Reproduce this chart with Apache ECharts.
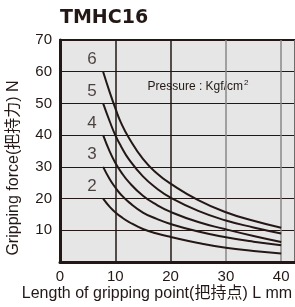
<!DOCTYPE html>
<html>
<head>
<meta charset="utf-8">
<script src="https://cdn.jsdelivr.net/npm/echarts@6/dist/echarts.min.js"></script>
<style>
    html, body { margin: 0; padding: 0; background: #fff; }
    #chart { width: 295px; height: 307px; }
</style>
</head>
<body>
<div id="chart"></div>
<script>
    // pressure levels (Kgf/cm2), one curve each
    var pressures = ['6', '5', '4', '3', '2'];
    // gripping point length L (mm)
    var lengths = [7.8, 9, 10, 11, 12.5, 15, 17.5, 20, 25, 30, 35, 40];
    // gripping force N
    var force6 = [60, 53.5, 48.5, 44, 39, 32.5, 28, 24.7, 19.5, 15.7, 13, 10.8];
    var force5 = [50, 44.3, 40, 36.6, 32.3, 27, 23.2, 20.3, 16.1, 13.1, 10.9, 9.0];
    var force4 = [40, 34.8, 31.3, 28.5, 25.1, 20.9, 18, 15.8, 12.6, 10.3, 8.2, 6.3];
    var force3 = [30, 26.1, 23.5, 21.3, 18.8, 15.6, 13.6, 12.0, 9.6, 7.8, 6.4, 5.3];
    var force2 = [20, 17.4, 15.7, 14.3, 12.6, 10.4, 9, 7.9, 6, 4.5, 3.5, 2.7];
    var labelPos = [[5.8, 63.8], [5.8, 53.8], [5.8, 43.8], [5.8, 33.8], [5.8, 23.8]];

    var ink = '#231815';
    var font = 'Liberation Sans, Arial, Noto Sans CJK SC, sans-serif';
    var allForces = [force6, force5, force4, force3, force2];

    var series = allForces.map(function (f, i) {
        return {
            name: pressures[i],
            type: 'line',
            smooth: 0.5,
            symbol: 'none',
            silent: true,
            lineStyle: { color: ink, width: 2 },
            data: lengths.map(function (l, j) { return [l, f[j]]; })
        };
    });
    series.push({
        type: 'scatter',
        symbolSize: 0,
        silent: true,
        label: {
            show: true,
            position: 'inside',
            formatter: function (p) { return pressures[p.dataIndex]; },
            color: ink,
            fontSize: 17,
            fontFamily: font
        },
        data: labelPos
    });

    var chart = echarts.init(document.getElementById('chart'));
    chart.setOption({
        animation: false,
        backgroundColor: '#fff',
        grid: {
            left: 60, right: -1, top: 40, bottom: 45,
            show: true,
            backgroundColor: '#e6e6e6',
            borderColor: ink,
            borderWidth: 2
        },
        xAxis: {
            type: 'value',
            min: 0, max: 42.5, interval: 10,
            axisLine: { show: true, lineStyle: { color: ink, width: 3 } },
            axisTick: { show: false },
            axisLabel: { showMaxLabel: false, color: ink, fontSize: 15, fontFamily: font, margin: 7 },
            splitLine: { show: true, lineStyle: { color: [ink, ink, ink, '#888', '#888', '#888'], width: 1.5 } }
        },
        yAxis: {
            type: 'value',
            min: 0, max: 70, interval: 10,
            axisLine: { show: true, lineStyle: { color: ink, width: 3 } },
            axisTick: { show: false },
            axisLabel: { showMinLabel: false, color: ink, fontSize: 15, fontFamily: font, margin: 8 },
            splitLine: { show: true, lineStyle: { color: ink, width: 1 } }
        },
        graphic: [
            {
                type: 'text', left: 60, top: 9,
                style: { text: 'TMHC16', fill: ink, font: 'bold 19px DejaVu Sans' }
            },
            {
                type: 'text', x: 198, y: 87,
                style: {
                    text: '{a|Pressure : Kgf/cm}{s|2}',
                    fill: ink, align: 'center', verticalAlign: 'middle',
                    rich: {
                        a: { fontSize: 12, fontFamily: font, color: ink },
                        s: { fontSize: 8, fontFamily: font, color: ink, padding: [0, 0, 8, 1] }
                    }
                }
            },
            {
                type: 'text', x: 14, y: 168, rotation: Math.PI / 2,
                style: {
                    text: 'Gripping force(把持力) N', fill: ink,
                    align: 'center', verticalAlign: 'middle',
                    fontSize: 16, fontFamily: font
                }
            },
            {
                type: 'text', x: 157, y: 294,
                style: {
                    text: 'Length of gripping point(把持点) L mm', fill: ink,
                    align: 'center', verticalAlign: 'middle',
                    fontSize: 16, fontFamily: font
                }
            }
        ],
        series: series
    });
</script>
</body>
</html>
